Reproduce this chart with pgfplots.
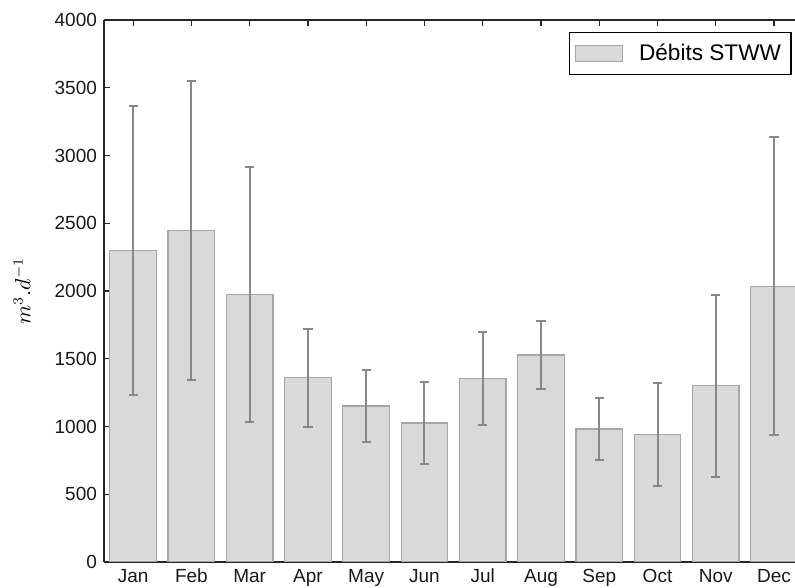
\documentclass[border=0pt]{standalone}
\usepackage{fontspec}
\setmainfont{Liberation Sans}
\usepackage{pgfplots}
\pgfplotsset{compat=1.18}
\definecolor{barfill}{HTML}{D9D9D9}
\definecolor{baredge}{HTML}{A6A6A6}
\definecolor{errgray}{HTML}{888888}

\begin{document}
\begin{tikzpicture}
\begin{axis}[
  scale only axis,
  width=345.5pt, height=271pt,
  ybar, bar width=0.8,
  xmin=-0.5, xmax=11.36,
  ymin=0, ymax=4000,
  xtick={0,...,11},
  xticklabels={Jan,Feb,Mar,Apr,May,Jun,Jul,Aug,Sep,Oct,Nov,Dec},
  ytick={0,500,...,4000},
  axis x line*=box, axis y line*=left,
  tick align=inside,
  major tick length=3pt,
  axis line style={line width=0.9pt, black!85},
  tick style={line width=0.6pt, black!85},
  ticklabel style={font=\fontsize{9.5}{11}\selectfont, black!90},
  /pgf/number format/assume math mode=true,
  /pgf/number format/1000 sep={},
  ylabel={$m^3.d^{-1}$},
  ylabel style={at={(rel axis cs:0,0.5)}, anchor=center, yshift=41pt,
    font=\fontsize{10.5}{12}\selectfont},
  legend style={at={(rel axis cs:0.995,0.978)}, anchor=north east,
    draw=black, line width=0.6pt, font=\fontsize{11.3}{13}\selectfont,
    inner xsep=3pt, inner ysep=3.5pt,
    /tikz/every odd column/.append style={column sep=6pt}},
]
\addplot[fill=barfill, draw=baredge, line width=0.6pt,
  legend image code/.code={\draw[fill=barfill, draw=baredge, line width=0.6pt] (0pt,-4pt) rectangle (23.3pt,4pt);},
  error bars/.cd, y dir=both, y explicit,
  error bar style={line width=1pt, errgray},
  error mark options={rotate=90, mark size=2.3pt, line width=1pt, errgray}]
coordinates {
  (0,2296) +- (0,1067)
  (1,2446) +- (0,1101)
  (2,1974) +- (0,941)
  (3,1361) +- (0,362)
  (4,1151) +- (0,267)
  (5,1026) +- (0,301)
  (6,1354) +- (0,345)
  (7,1527) +- (0,250)
  (8,981) +- (0,230)
  (9,939) +- (0,381)
  (10,1301) +- (0,673)
  (11,2036) +- (0,1100)
};
\addlegendentry{Débits STWW}
\coordinate (sw) at (rel axis cs:0,0);
\coordinate (ne) at (rel axis cs:1,1);
\end{axis}
\pgfresetboundingbox
\path[use as bounding box] ([xshift=-52pt,yshift=-12.5pt]sw) rectangle ([yshift=10pt]ne);
\end{tikzpicture}
\end{document}
